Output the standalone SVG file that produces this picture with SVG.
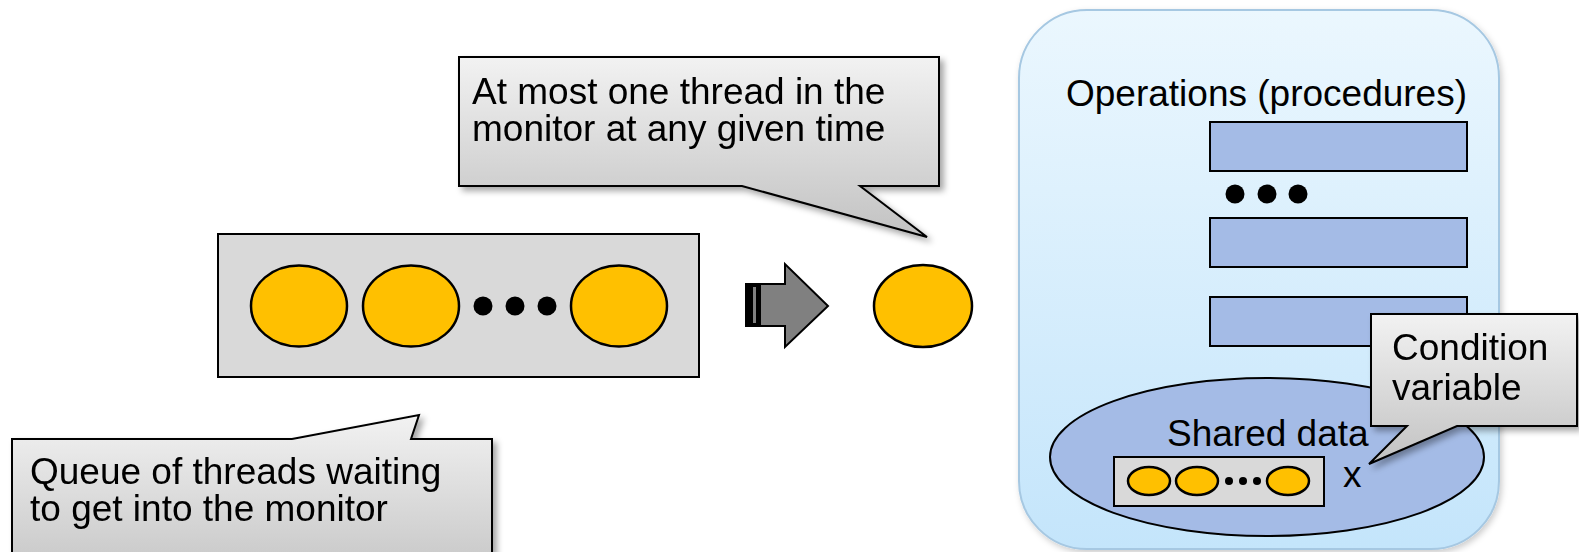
<svg xmlns="http://www.w3.org/2000/svg" width="1579" height="552" viewBox="0 0 1579 552">
  <defs>
    <linearGradient id="calloutGrad" x1="0" y1="0" x2="0" y2="1">
      <stop offset="0" stop-color="#F2F2F2"/>
      <stop offset="1" stop-color="#C2C2C2"/>
    </linearGradient>
    <linearGradient id="monitorGrad" x1="0" y1="0" x2="0" y2="1">
      <stop offset="0" stop-color="#EBF7FE"/>
      <stop offset="1" stop-color="#C4E5FB"/>
    </linearGradient>
    <filter id="shadow" x="-10%" y="-10%" width="130%" height="140%">
      <feDropShadow dx="4" dy="4" stdDeviation="3" flood-color="#000" flood-opacity="0.35"/>
    </filter>
    <filter id="softShadow" x="-10%" y="-10%" width="130%" height="130%">
      <feDropShadow dx="2" dy="3" stdDeviation="3" flood-color="#000" flood-opacity="0.2"/>
    </filter>
  </defs>
  <style>
    text { font-family: "Liberation Sans", Arial, sans-serif; font-size: 37px; fill: #000; }
    .thread { fill: #FFC000; stroke: #000; stroke-width: 2.5; }
    .queue { fill: #D9D9D9; stroke: #000; stroke-width: 2; }
    .proc { fill: #A4BBE6; stroke: #000; stroke-width: 2; }
    .callout { fill: url(#calloutGrad); stroke: #000; stroke-width: 2; stroke-linejoin: miter; }
    .dot { fill: #000; }
  </style>

  <!-- Monitor -->
  <g id="monitor">
    <rect x="1019" y="10" width="480" height="539" rx="68" ry="68" fill="url(#monitorGrad)" stroke="#A6C8E2" stroke-width="2" filter="url(#softShadow)"/>
    <text x="1066" y="106">Operations (procedures)</text>
  </g>

  <g id="proc1"><rect class="proc" x="1210" y="122" width="257" height="49"/></g>
  <g id="proc-dots">
    <circle class="dot" cx="1235" cy="194" r="9.5"/>
    <circle class="dot" cx="1267" cy="194" r="9.5"/>
    <circle class="dot" cx="1298" cy="194" r="9.5"/>
  </g>
  <g id="proc2"><rect class="proc" x="1210" y="218" width="257" height="49"/></g>
  <g id="proc3"><rect class="proc" x="1210" y="297" width="257" height="49"/></g>

  <g id="shared-data">
    <ellipse class="proc" cx="1267" cy="457" rx="217" ry="79"/>
    <text x="1167" y="446">Shared data</text>
  </g>

  <g id="cond-queue">
    <rect class="queue" x="1114" y="457" width="210" height="49"/>
    <ellipse class="thread" cx="1149" cy="481" rx="21" ry="14"/>
    <ellipse class="thread" cx="1197" cy="481" rx="21" ry="14"/>
    <circle class="dot" cx="1229" cy="481" r="4"/>
    <circle class="dot" cx="1243" cy="481" r="4"/>
    <circle class="dot" cx="1257" cy="481" r="4"/>
    <ellipse class="thread" cx="1288" cy="481" rx="21" ry="14"/>
  </g>
  <g id="x-label"><text x="1343" y="487">x</text></g>

  <!-- Entry queue -->
  <g id="entry-queue">
    <rect class="queue" x="218" y="234" width="481" height="143"/>
    <ellipse class="thread" cx="299" cy="306" rx="48" ry="40.5"/>
    <ellipse class="thread" cx="411" cy="306" rx="48" ry="40.5"/>
    <circle class="dot" cx="483" cy="306" r="9.5"/>
    <circle class="dot" cx="515" cy="306" r="9.5"/>
    <circle class="dot" cx="547" cy="306" r="9.5"/>
    <ellipse class="thread" cx="619" cy="306" rx="48" ry="40.5"/>
  </g>

  <g id="connectors">
    <g id="arrow">
      <polygon points="746,284 785,284 785,264 828,306 785,347 785,326 746,326" fill="#808080" stroke="#000" stroke-width="2" stroke-linejoin="miter"/>
      <rect x="746" y="284" width="15" height="42" fill="#000"/>
      <rect x="753" y="287" width="3" height="36" fill="#808080"/>
    </g>
  </g>

  <g id="active-thread">
    <ellipse class="thread" cx="923" cy="306" rx="49" ry="41"/>
  </g>

  <!-- Callouts -->
  <g id="callout-monitor" filter="url(#shadow)">
    <path class="callout" d="M459,57 H939 V186 H860 L927,237 L742,186 H459 Z"/>
    <text x="472" y="104">At most one thread in the</text>
    <text x="472" y="141">monitor at any given time</text>
  </g>

  <g id="callout-queue" filter="url(#shadow)">
    <path class="callout" d="M12,439 H292 L419,415 L411,439 H492 V590 H12 Z"/>
    <text x="30" y="484">Queue of threads waiting</text>
    <text x="30" y="521">to get into the monitor</text>
  </g>

  <g id="callout-condition" filter="url(#shadow)">
    <path class="callout" d="M1371,314 H1577 V426 H1457 L1369,464 L1407,426 H1371 Z"/>
    <text x="1392" y="360">Condition</text>
    <text x="1392" y="400">variable</text>
  </g>
</svg>
